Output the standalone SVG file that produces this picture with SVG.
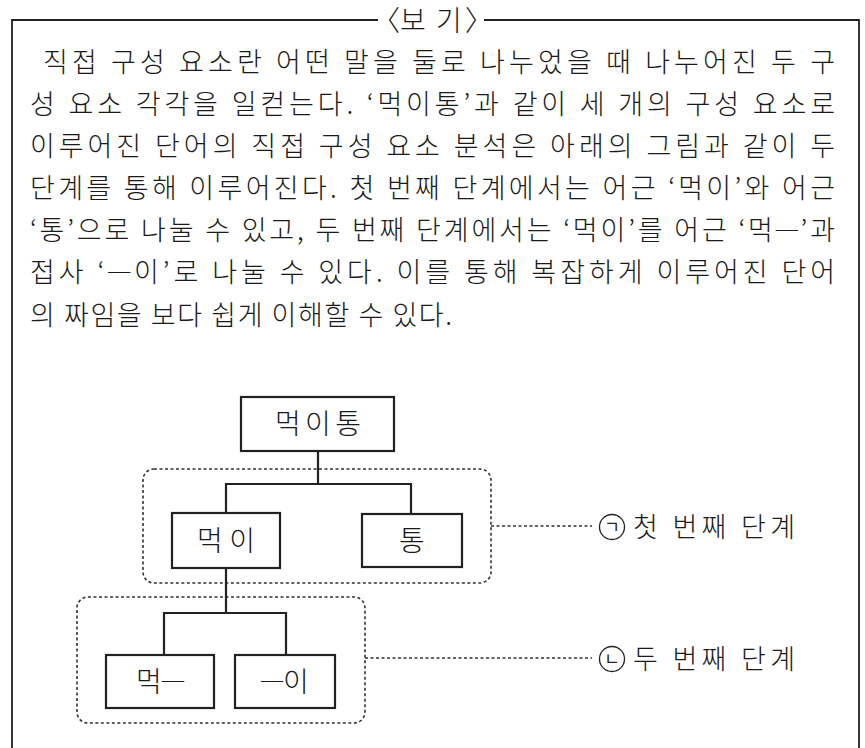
<svg xmlns="http://www.w3.org/2000/svg" width="865" height="748" viewBox="0 0 865 748">
<style>
.t{font-family:"Noto Sans CJK KR","Noto Sans",sans-serif;font-size:27px;font-weight:300;fill:#1a1a1a}
.n{font-family:"Noto Sans CJK KR","Noto Sans",sans-serif;font-size:28px;font-weight:300;fill:#1a1a1a;text-anchor:middle}
.d{font-family:"Liberation Serif",serif;font-size:22px}
.box{fill:#fff;stroke:#222;stroke-width:2.2}
.dot{fill:none;stroke:#333;stroke-width:1.6;stroke-dasharray:3 2.5}
.ln{fill:none;stroke:#222;stroke-width:2.2}
</style>
<rect width="865" height="748" fill="#fff"/>
<g id="frame">
<path d="M12 760 V20 H378 M484 20 H859 V760" fill="none" stroke="#222" stroke-width="1.8"/>
<text class="n" font-size="30"><tspan x="386" y="31">〈</tspan><tspan x="413" y="31">보</tspan><tspan x="449" y="31">기</tspan><tspan x="479" y="31">〉</tspan></text>
</g>
<g id="body">
<text class="t" x="43" y="72" textLength="792" lengthAdjust="spacing">직접 구성 요소란 어떤 말을 둘로 나누었을 때 나누어진 두 구</text>
<text class="t" x="30" y="114" textLength="805" lengthAdjust="spacing">성 요소 각각을 일컫는다. ‘먹이통’과 같이 세 개의 구성 요소로</text>
<text class="t" x="30" y="156" textLength="805" lengthAdjust="spacing">이루어진 단어의 직접 구성 요소 분석은 아래의 그림과 같이 두</text>
<text class="t" x="30" y="198" textLength="805" lengthAdjust="spacing">단계를 통해 이루어진다. 첫 번째 단계에서는 어근 ‘먹이’와 어근</text>
<text class="t" x="30" y="240" textLength="805" lengthAdjust="spacing">‘통’으로 나눌 수 있고, 두 번째 단계에서는 ‘먹이’를 어근 ‘먹<tspan class="d" dy="-4">—</tspan><tspan dy="4">’과</tspan></text>
<text class="t" x="30" y="282" textLength="805" lengthAdjust="spacing">접사 ‘<tspan class="d" dy="-4">—</tspan><tspan dy="4">이’로 나눌 수 있다. 이를 통해 복잡하게 이루어진 단어</tspan></text>
<text class="t" x="30" y="325" textLength="422" lengthAdjust="spacing">의 짜임을 보다 쉽게 이해할 수 있다.</text>
</g>
<g id="groups">
<rect id="stage1" class="dot" x="143" y="469" width="348" height="114" rx="11"/>
<rect id="stage2" class="dot" x="77" y="597" width="288" height="126" rx="11"/>
</g>
<g id="connectors">
<path class="ln" d="M318 451 V484 M226 484 H411 M226 483 V513 M411 483 V514"/>
<path class="ln" d="M226 568 V613 M164 613 H286 M164 612 V655 M286 612 V655"/>
<path class="dot" d="M491 526 H592 M365 658 H592"/>
</g>
<g id="n-meogitong"><rect class="box" x="241" y="397" width="153" height="54"/><text class="n" x="318" y="434" textLength="86" lengthAdjust="spacing">먹이통</text></g>
<g id="n-meogi"><rect class="box" x="172" y="513" width="108" height="55"/><text class="n" x="226" y="551" textLength="58" lengthAdjust="spacing">먹이</text></g>
<g id="n-tong"><rect class="box" x="362" y="514" width="100" height="53"/><text class="n" x="412" y="551">통</text></g>
<g id="n-meok"><rect class="box" x="106" y="655" width="108" height="53"/><text class="n" x="160" y="692">먹<tspan class="d" font-size="24" dy="-5">—</tspan></text></g>
<g id="n-i"><rect class="box" x="235" y="655" width="100" height="53"/><text class="n" x="285" y="692"><tspan class="d" font-size="24" dy="-5">—</tspan><tspan dy="5">이</tspan></text></g>
<g id="label1"><circle cx="612" cy="527" r="12.5" fill="none" stroke="#222" stroke-width="1.3"/><text x="612" y="533" font-family="Noto Sans CJK KR,sans-serif" font-size="17" text-anchor="middle" fill="#222">ㄱ</text><text class="t" x="633" y="537" font-size="28" textLength="162" lengthAdjust="spacing">첫 번째 단계</text></g>
<g id="label2"><circle cx="612" cy="659" r="12.5" fill="none" stroke="#222" stroke-width="1.3"/><text x="612" y="665" font-family="Noto Sans CJK KR,sans-serif" font-size="17" text-anchor="middle" fill="#222">ㄴ</text><text class="t" x="633" y="669" font-size="28" textLength="162" lengthAdjust="spacing">두 번째 단계</text></g>
</svg>
